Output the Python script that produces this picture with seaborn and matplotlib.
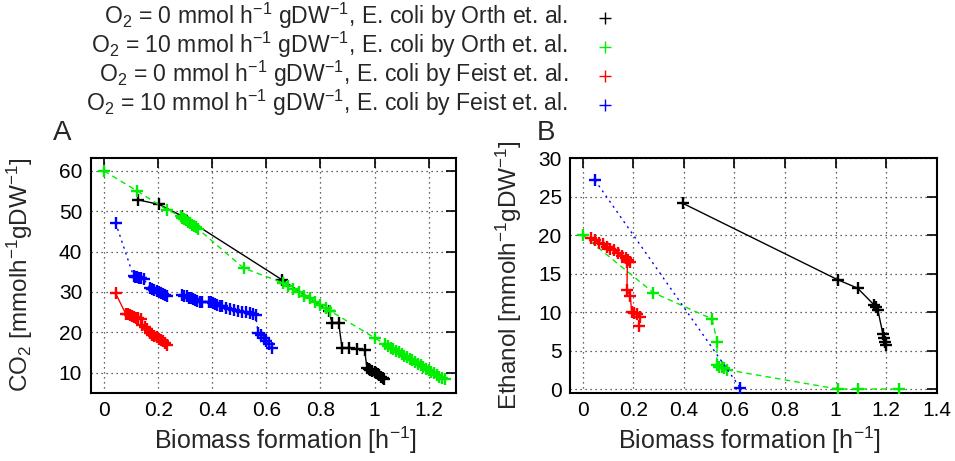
import matplotlib
matplotlib.use("Agg")
import matplotlib.pyplot as plt
from matplotlib.lines import Line2D
import seaborn as sns
import pandas as pd

# ---------------- data ----------------
# Panel A: CO2 production vs biomass formation
a_orth0_x = [0.127, 0.203, 0.289, 0.658, 0.83, 0.843, 0.867, 0.88, 0.904, 0.935, 0.963,
             0.972, 0.978, 0.985, 0.992, 1.0, 1.006, 1.012, 1.018, 1.024, 1.03, 1.035]
a_orth0_y = [52.8, 51.7, 48.8, 33.0, 25.3, 22.4, 22.4, 16.1, 16.1, 15.9, 15.7,
             11.2, 10.9, 10.6, 10.4, 10.1, 9.8, 9.6, 9.3, 9.0, 8.7, 8.4]

a_orth10_x = [0.0, 0.123, 0.231, 0.283, 0.29, 0.297, 0.304, 0.311, 0.318, 0.325, 0.332, 0.34, 0.348,
              0.516, 0.66, 0.68, 0.70, 0.72, 0.74, 0.76, 0.78, 0.80, 0.82, 0.836,
              1.0, 1.04, 1.05, 1.06, 1.07, 1.08, 1.09, 1.10, 1.11, 1.12, 1.13, 1.14, 1.15,
              1.16, 1.17, 1.18, 1.19, 1.20, 1.21, 1.22, 1.23, 1.24, 1.25, 1.26]
a_orth10_y = [60.0, 55.0, 50.4, 48.8, 48.4, 48.1, 47.8, 47.4, 47.1, 46.7, 46.4, 46.0, 45.6,
              35.9, 32.3, 31.5, 30.7, 29.9, 29.1, 28.4, 27.6, 26.8, 26.0, 25.3,
              18.6, 17.0, 16.6, 16.2, 15.8, 15.4, 15.0, 14.6, 14.2, 13.8, 13.4, 13.0, 12.6,
              12.2, 11.8, 11.4, 11.0, 10.6, 10.2, 9.8, 9.4, 9.0, 8.6, 8.3]

a_feist0_x = [0.043, 0.08, 0.088, 0.095, 0.102, 0.11, 0.118, 0.126, 0.135, 0.14, 0.15, 0.16,
              0.17, 0.178, 0.186, 0.194, 0.202, 0.21, 0.218, 0.226, 0.234]
a_feist0_y = [29.6, 24.6, 24.4, 24.2, 24.0, 23.8, 23.6, 23.4, 23.2, 21.9, 21.3, 20.7,
              19.8, 19.4, 19.0, 18.7, 18.4, 18.0, 17.7, 17.3, 16.9]

a_feist10_x = [0.043, 0.109, 0.116, 0.123, 0.13, 0.138, 0.146, 0.17, 0.178, 0.186, 0.194, 0.202,
               0.21, 0.218, 0.226, 0.232, 0.289, 0.297, 0.305, 0.313, 0.321, 0.329, 0.337, 0.345,
               0.353, 0.363, 0.387, 0.395, 0.403, 0.411, 0.419, 0.427, 0.435, 0.45, 0.465, 0.48,
               0.495, 0.51, 0.525, 0.54, 0.55, 0.56, 0.57, 0.58, 0.59, 0.60, 0.61, 0.62]
a_feist10_y = [47.1, 33.9, 33.8, 33.7, 33.5, 33.4, 33.2, 31.0, 30.7, 30.5, 30.2, 30.0,
               29.8, 29.5, 29.2, 29.0, 29.3, 29.1, 28.9, 28.6, 28.4, 28.2, 28.0, 27.8,
               27.6, 27.4, 27.6, 27.4, 27.2, 27.0, 26.8, 26.6, 26.4, 26.0, 25.7, 25.5,
               25.3, 25.1, 24.9, 24.7, 24.5, 24.3, 19.8, 19.2, 18.6, 17.9, 17.2, 16.2]

# Panel B: ethanol production vs biomass formation
b_orth0_x = [0.397, 1.008, 1.087, 1.153, 1.16, 1.167, 1.187, 1.19, 1.195, 1.2]
b_orth0_y = [24.1, 14.2, 13.1, 10.9, 10.6, 10.3, 7.2, 6.6, 6.1, 5.7]

b_orth10_x = [0.0, 0.28, 0.512, 0.532, 0.53, 0.54, 0.55, 0.56, 0.57, 1.008, 1.09, 1.25]
b_orth10_y = [20.0, 12.5, 9.1, 6.1, 3.1, 2.9, 2.8, 2.7, 2.5, 0.0, 0.0, 0.0]

b_feist0_x = [0.035, 0.05, 0.065, 0.08, 0.095, 0.11, 0.125, 0.14, 0.155, 0.17, 0.18, 0.188,
              0.177, 0.175, 0.188, 0.194, 0.205, 0.215, 0.227, 0.222]
b_feist0_y = [19.6, 19.3, 19.0, 18.8, 18.5, 18.2, 18.0, 17.7, 17.3, 17.0, 16.8, 16.5,
              16.5, 12.9, 12.1, 10.0, 9.9, 9.7, 9.4, 8.2]

b_feist10_x = [0.049, 0.624]
b_feist10_y = [27.1, 0.1]

series_labels = [
    r"O$_2$ = 0 mmol h$^{-1}$ gDW$^{-1}$, E. coli by Orth et. al.",
    r"O$_2$ = 10 mmol h$^{-1}$ gDW$^{-1}$, E. coli by Orth et. al.",
    r"O$_2$ = 0 mmol h$^{-1}$ gDW$^{-1}$, E. coli by Feist et. al.",
    r"O$_2$ = 10 mmol h$^{-1}$ gDW$^{-1}$, E. coli by Feist et. al.",
]
series_colors = ["#000000", "#00ee00", "#ff0000", "#0000ff"]
series_styles = ["-", (0, (4, 3)), "-", (0, (1.5, 3))]

a_xticks = [0, 0.2, 0.4, 0.6, 0.8, 1, 1.2]
a_yticks = [10, 20, 30, 40, 50, 60]
b_xticks = [0, 0.2, 0.4, 0.6, 0.8, 1, 1.2, 1.4]
b_yticks = [0, 5, 10, 15, 20, 25, 30]

# ---------------- style ----------------
sns.set_style("white")
plt.rcParams["font.family"] = ["Liberation Sans", "DejaVu Sans"]
plt.rcParams["mathtext.fontset"] = "custom"
plt.rcParams["mathtext.rm"] = "Liberation Sans"
plt.rcParams["mathtext.it"] = "Liberation Sans:italic"
plt.rcParams["mathtext.bf"] = "Liberation Sans:bold"
plt.rcParams["mathtext.sf"] = "Liberation Sans"

W, H = 955, 461
fig = plt.figure(figsize=(W / 100, H / 100), dpi=100)

top_px, bot_px = 158, 392.7
axA = fig.add_axes([90.5 / W, 1 - bot_px / H, (455.7 - 90.5) / W, (bot_px - top_px) / H])
axB = fig.add_axes([570 / W, 1 - bot_px / H, (936.7 - 570) / W, (bot_px - top_px) / H])

panelA = [(a_orth0_x, a_orth0_y), (a_orth10_x, a_orth10_y),
          (a_feist0_x, a_feist0_y), (a_feist10_x, a_feist10_y)]
panelB = [(b_orth0_x, b_orth0_y), (b_orth10_x, b_orth10_y),
          (b_feist0_x, b_feist0_y), (b_feist10_x, b_feist10_y)]

for ax, data in ((axA, panelA), (axB, panelB)):
    for i in [0, 1, 2, 3]:
        xs, ys = data[i]
        df = pd.DataFrame({"x": xs, "y": ys})
        sns.lineplot(data=df, x="x", y="y", ax=ax, sort=False, estimator=None,
                     color=series_colors[i], linestyle=series_styles[i], linewidth=1.0,
                     marker="+", markersize=8.5, markeredgewidth=1.7,
                     markeredgecolor=series_colors[i], zorder=3 + i)

for ax in (axA, axB):
    ax.grid(True, color="#333333", linestyle=(0, (1, 3)), linewidth=0.9, zorder=0)
    ax.tick_params(direction="in", length=7, width=1.2, top=True, right=True,
                   labelsize=15, pad=6, colors="black")
    for s in ax.spines.values():
        s.set_linewidth(1.5)
        s.set_color("black")
    ax.set_xlabel("Biomass formation [h$^{-1}$]", fontsize=18)
    ax.xaxis.label.set_va("baseline")

axA.xaxis.set_label_coords(0.533, -(449 - bot_px) / (bot_px - top_px))
axB.xaxis.set_label_coords(0.49, -(449 - bot_px) / (bot_px - top_px))

axA.set_xlim(-0.05, 1.3)
axA.set_ylim(5, 63.2)
axA.set_xticks(a_xticks)
axA.set_xticklabels(["0", "0.2", "0.4", "0.6", "0.8", "1", "1.2"])
axA.set_yticks(a_yticks)
axA.set_ylabel("CO$_2$ [mmolh$^{-1}$gDW$^{-1}$]", fontsize=17.5)
axA.yaxis.set_label_coords(-0.152, 0.5)

axB.set_xlim(-0.05, 1.4)
axB.set_ylim(-0.48, 30)
axB.set_xticks(b_xticks)
axB.set_xticklabels(["0", "0.2", "0.4", "0.6", "0.8", "1", "1.2", "1.4"])
axB.set_yticks(b_yticks)
axB.set_ylabel("Ethanol [mmolh$^{-1}$gDW$^{-1}$]", fontsize=17.5)
axB.yaxis.set_label_coords(-0.125, 0.5)

fig.text(62 / W, 1 - 133 / H, "A", fontsize=20, ha="center", va="center")
fig.text(546 / W, 1 - 133 / H, "B", fontsize=20, ha="center", va="center")

# gnuplot-style key: right-aligned text followed by a marker sample
row_y = [16, 45, 74, 103]
for lab, col, yy in zip(series_labels, series_colors, row_y):
    fig.text(568 / W, 1 - yy / H, lab, fontsize=16.6, ha="right", va="center")
    fig.add_artist(Line2D([605 / W], [1 - (yy + 2) / H], marker="+", markersize=8,
                          markeredgewidth=1.0, color=col, linestyle="none",
                          transform=fig.transFigure))

fig.savefig("out.png", dpi=100)
